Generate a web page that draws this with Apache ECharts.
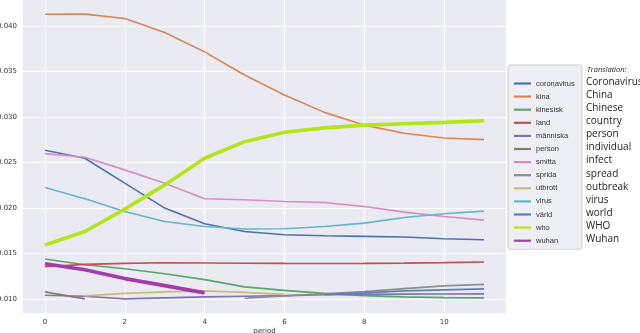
<!DOCTYPE html>
<html>
<head>
<meta charset="utf-8">
<script src="https://cdn.jsdelivr.net/npm/echarts@6/dist/echarts.min.js"></script>
<style>
html,body{margin:0;padding:0;background:#fff;}
#c{width:640px;height:333px;}
</style>
</head>
<body>
<div id="c"></div>
<script>
// periods
var periods = [0,1,2,3,4,5,6,7,8,9,10,11];
var xTicks = [0,2,4,6,8,10];
var yTicks = [0.010,0.015,0.020,0.025,0.030,0.035,0.040];

var keywords = ['coronavirus','kina','kinesisk','land','människa','person','smitta','sprida','utbrott','virus','värld','who','wuhan'];
var translations = ['Coronavirus','China','Chinese','country','person','individual','infect','spread','outbreak','virus','world','WHO','Wuhan'];
var colors = ['#4c72b0','#dd8452','#55a868','#c44e52','#8172b3','#937860','#da8bc3','#8c8c8c','#ccb974','#64b5cd','#5a7fbb','#b2e61b','#a43ba8'];

// values per keyword (start period, values)
var coronavirus = [0.02634,0.02546,0.02272,0.01998,0.01826,0.01741,0.01705,0.01694,0.01687,0.01680,0.01661,0.01650];
var kina        = [0.04128,0.04130,0.04081,0.03928,0.03715,0.03460,0.03240,0.03050,0.02910,0.02820,0.02769,0.02750];
var kinesisk    = [0.01439,0.01376,0.01332,0.01277,0.01212,0.01132,0.01094,0.01061,0.01036,0.01022,0.01014,0.01011];
var land        = [0.01354,0.01379,0.01390,0.01398,0.01395,0.01392,0.01390,0.01389,0.01390,0.01393,0.01399,0.01406];
var manniska    = [0.01040,0.01029,0.01000,0.01011,0.01022,0.01029,0.01036,0.01047,0.01050,0.01052,0.01054,0.01055];
var person      = [0.01077,0.01000];
var smitta      = [0.02597,0.02557,0.02418,0.02272,0.02100,0.02089,0.02070,0.02060,0.02015,0.01954,0.01906,0.01866];
var sprida      = [0.01007,0.01033,0.01055,0.01080,0.01113,0.01143,0.01160];
var utbrott     = [0.01033,0.01061,0.01077,0.01088,0.01072,0.01050];
var virus       = [0.02224,0.02100,0.01961,0.01851,0.01796,0.01768,0.01771,0.01796,0.01833,0.01895,0.01935,0.01965];
var varld       = [0.01047,0.01066,0.01088,0.01099,0.01110];
var who         = [0.01592,0.01741,0.01987,0.02253,0.02546,0.02728,0.02831,0.02880,0.02910,0.02925,0.02940,0.02958];
var wuhan       = [0.01387,0.01321,0.01223,0.01146,0.01066];

var seriesValues = [coronavirus,kina,kinesisk,land,manniska,person,smitta,sprida,utbrott,virus,varld,who,wuhan];
var startPeriod  = [0,0,0,0,0,0,0,5,1,0,7,0,0];
var lineWidths   = [1.6,1.6,1.6,1.6,1.6,1.6,1.6,1.6,1.6,1.6,1.6,3.6,3.6];

var series = keywords.map(function(name,i){
  var vals = seriesValues[i];
  return {
    name: name, type: 'line', showSymbol: false, symbol: 'none', smooth: false,
    data: vals.map(function(v,j){ return [periods[startPeriod[i]+j], v]; }),
    lineStyle: {color: colors[i], width: lineWidths[i]},
    itemStyle: {color: colors[i]},
    emphasis: {disabled: true},
    animation: false
  };
});

var graphics = [
  {type:'text', left: 529, top: 67, style:{text:'Top keywords', fontSize:6.5, fill:'#333', fontFamily:'Liberation Sans'}},
  {type:'text', left: 587, top: 66, style:{text:'Translation:', fontSize:7.5, fontStyle:'italic', fill:'#222', fontFamily:'Open Sans'}}
];
translations.forEach(function(t,i){
  graphics.push({type:'text', left: 586, top: 77 + i*13.1, style:{text:t, fontSize:10, fill:'#1c1c1c', fontFamily:'Open Sans'}});
});

var chart = echarts.init(document.getElementById('c'), null, {renderer:'canvas'});
chart.setOption({
  animation: false,
  backgroundColor: '#fff',
  grid: {left: 23, right: 134, top: 0, bottom: 20, show: true, backgroundColor: '#eaeaf2', borderWidth: 0,
    containLabel: false, outerBoundsMode: 'none'},
  xAxis: {
    type: 'value', min: -0.55, max: 11.55,
    name: 'period', nameLocation: 'middle', nameGap: 15, nameMoveOverlap: false,
    nameTextStyle: {fontSize: 7, color: '#333', fontFamily: 'DejaVu Sans'},
    axisLine: {show: false},
    axisTick: {show: false, customValues: xTicks},
    axisLabel: {customValues: xTicks, fontSize: 7, color: '#333', margin: 6, fontFamily: 'DejaVu Sans'},
    splitLine: {show: true, lineStyle: {color: '#fff', width: 1}}
  },
  yAxis: {
    type: 'value', min: 0.00845, max: 0.04285,
    axisLine: {show: false},
    axisTick: {show: false, customValues: yTicks},
    axisLabel: {customValues: yTicks, fontSize: 7, color: '#333', margin: 6, fontFamily: 'DejaVu Sans',
      formatter: function(v){ return v.toFixed(3); }},
    splitLine: {show: true, lineStyle: {color: '#fff', width: 1}}
  },
  legend: {
    orient: 'vertical', left: 508, top: 65,
    data: keywords,
    icon: 'rect', itemWidth: 17, itemHeight: 2.2, itemGap: 0.1,
    padding: [12, 7, 2, 6],
    backgroundColor: '#eeeef5', borderColor: '#cfcfd6', borderWidth: 1, borderRadius: 2,
    textStyle: {fontSize: 7.5, color: '#333', lineHeight: 13, fontFamily: 'Liberation Sans'},
    selectedMode: false
  },
  graphic: graphics,
  series: series
});
</script>
</body>
</html>
